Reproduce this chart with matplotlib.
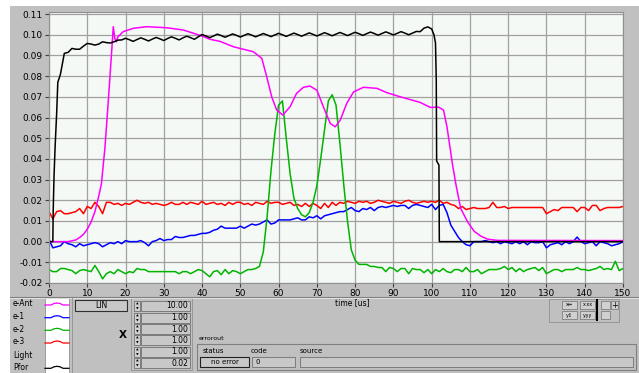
import numpy as np
import matplotlib
matplotlib.use("Agg")
import matplotlib.pyplot as plt
from matplotlib.patches import Rectangle

plt.rcParams['axes.unicode_minus'] = False
plt.rcParams['font.family'] = 'DejaVu Sans'

# time axis for the sampled channels (1 us steps)
t = np.arange(0, 151)

e3 = [0.0145, 0.011, 0.0145, 0.015, 0.0135, 0.0135, 0.014, 0.0145, 0.016, 0.0135,
      0.017, 0.016, 0.019, 0.017, 0.0135, 0.019, 0.019, 0.018, 0.0185, 0.0175,
      0.0185, 0.018, 0.019, 0.020, 0.019, 0.0185, 0.019, 0.018, 0.0185, 0.018,
      0.0175, 0.018, 0.019, 0.018, 0.018, 0.019, 0.018, 0.019, 0.0185, 0.018,
      0.0195, 0.018, 0.0185, 0.019, 0.018, 0.0185, 0.0175, 0.019, 0.018, 0.019,
      0.019, 0.018, 0.0185, 0.0175, 0.019, 0.0185, 0.018, 0.0195, 0.0185, 0.019,
      0.019, 0.018, 0.0185, 0.019, 0.0175, 0.018, 0.017, 0.0185, 0.017, 0.0185,
      0.0175, 0.016, 0.0185, 0.0165, 0.019, 0.0175, 0.019, 0.0185, 0.0195, 0.019,
      0.0185, 0.0195, 0.019, 0.0195, 0.0185, 0.019, 0.020, 0.0195, 0.019, 0.0185,
      0.0195, 0.019, 0.0185, 0.0195, 0.020, 0.019, 0.0185, 0.019, 0.0195, 0.019,
      0.0195, 0.019, 0.020, 0.0185, 0.019, 0.018, 0.0175, 0.016, 0.017, 0.0155,
      0.016, 0.0165, 0.016, 0.016, 0.016, 0.0165, 0.019, 0.0165, 0.0165, 0.017,
      0.016, 0.0165, 0.0165, 0.0165, 0.0165, 0.0165, 0.0165, 0.0165, 0.0165, 0.0165,
      0.0135, 0.0145, 0.0155, 0.015, 0.0165, 0.0165, 0.0165, 0.0165, 0.0145, 0.0165,
      0.0165, 0.015, 0.0175, 0.0175, 0.015, 0.016, 0.0165, 0.0165, 0.0165, 0.0165,
      0.017]

e1 = [0.001, -0.003, -0.0025, -0.002, 0.0, -0.001, -0.0015, -0.0025, -0.001, -0.002,
      -0.0015, -0.001, -0.0005, -0.001, -0.0025, -0.0015, -0.0005, -0.001, 0.0, -0.001,
      0.0005, 0.0, 0.0, 0.0, 0.0005, -0.0005, -0.002, 0.0, 0.0005, 0.0015,
      0.0005, 0.001, 0.001, 0.0025, 0.002, 0.002, 0.0025, 0.003, 0.003, 0.0035,
      0.004, 0.004, 0.0045, 0.0055, 0.006, 0.0075, 0.0065, 0.0065, 0.0065, 0.0065,
      0.0075, 0.0065, 0.0075, 0.0085, 0.008, 0.0085, 0.0095, 0.0105, 0.0085, 0.009,
      0.0105, 0.0105, 0.0105, 0.0105, 0.011, 0.0115, 0.0105, 0.0105, 0.012, 0.0115,
      0.0125, 0.011, 0.0125, 0.013, 0.0135, 0.014, 0.0145, 0.0145, 0.0155, 0.0165,
      0.015, 0.0145, 0.016, 0.0155, 0.0165, 0.015, 0.0165, 0.017, 0.0165, 0.017,
      0.0175, 0.017, 0.0175, 0.0175, 0.016, 0.0175, 0.018, 0.0175, 0.017, 0.0165,
      0.018, 0.0155, 0.0175, 0.018, 0.014, 0.008, 0.005, 0.002, 0.0, -0.0015,
      -0.002, 0.0, 0.0, 0.0, 0.0005, 0.0, -0.0005, 0.0, -0.001, 0.0,
      -0.0005, -0.001, 0.0, -0.001, 0.0, -0.0015, 0.0, -0.0005, -0.0005, 0.0,
      -0.003, -0.0015, -0.001, -0.0005, -0.0015, 0.0, -0.001, 0.0, 0.0022, 0.0,
      -0.001, -0.0005, 0.0, -0.002, 0.0, -0.0005, -0.001, -0.002, -0.0015, -0.001,
      0.0]

e2 = [-0.0135, -0.0145, -0.0145, -0.013, -0.013, -0.0135, -0.014, -0.0155, -0.014, -0.0135,
      -0.014, -0.0145, -0.0115, -0.0145, -0.018, -0.0155, -0.0145, -0.0155, -0.0135, -0.0145,
      -0.0155, -0.0145, -0.015, -0.013, -0.0135, -0.0135, -0.0145, -0.0145, -0.0145, -0.0145,
      -0.0145, -0.0145, -0.0145, -0.0145, -0.0155, -0.0145, -0.0145, -0.0155, -0.0145, -0.0135,
      -0.014, -0.0155, -0.017, -0.0145, -0.014, -0.016, -0.0135, -0.0155, -0.014, -0.0145,
      -0.0155, -0.0145, -0.0135, -0.0135, -0.013, -0.012, -0.005, 0.012, 0.034, 0.052,
      0.066, 0.068, 0.050, 0.033, 0.021, 0.016, 0.013, 0.012, 0.014, 0.019,
      0.027, 0.040, 0.054, 0.068, 0.071, 0.066, 0.048, 0.028, 0.010, -0.004,
      -0.009, -0.011, -0.011, -0.011, -0.012, -0.012, -0.0125, -0.0125, -0.0145, -0.0125,
      -0.013, -0.0145, -0.013, -0.013, -0.0155, -0.013, -0.0135, -0.0135, -0.015, -0.0135,
      -0.0155, -0.0135, -0.0145, -0.013, -0.0145, -0.015, -0.0135, -0.0135, -0.0145, -0.0125,
      -0.0145, -0.0145, -0.0135, -0.0155, -0.0145, -0.0135, -0.0135, -0.0135, -0.013, -0.012,
      -0.0135, -0.0125, -0.0145, -0.013, -0.0145, -0.0135, -0.013, -0.0125, -0.014, -0.0125,
      -0.0155, -0.0145, -0.0135, -0.0135, -0.0145, -0.0135, -0.0135, -0.0135, -0.0125, -0.0135,
      -0.0135, -0.014, -0.0135, -0.013, -0.012, -0.0135, -0.013, -0.0135, -0.0095, -0.014,
      -0.013]

# Pfor (forward power), own time base
pfor_t = [0, 1, 1.1, 1.3, 1.6, 2.0, 2.3, 3, 4, 5, 6, 7, 8, 9, 10, 11, 12, 13, 14, 15,
          16, 17, 18] + list(range(19, 101)) + [100.6, 101.0, 101.2, 101.3, 101.9, 102, 150]
pfor = [0.0, 0.0, 0.015, 0.031, 0.046, 0.062, 0.077, 0.081, 0.091, 0.0915,
        0.0934, 0.093, 0.093, 0.0945, 0.0958, 0.0955, 0.095, 0.0955, 0.0966, 0.0962,
        0.096, 0.0966, 0.0974,
        0.0975, 0.0983, 0.0976, 0.0968, 0.0977, 0.0985, 0.0978, 0.0970, 0.0979, 0.0987,
        0.0980, 0.0972, 0.0982, 0.0990, 0.0983, 0.0975, 0.0985, 0.0993, 0.0986, 0.0978,
        0.0990, 0.1001, 0.0994, 0.0986, 0.0994, 0.1003, 0.0996, 0.0988, 0.0996, 0.1004,
        0.0997, 0.0989, 0.0997, 0.1005, 0.0998, 0.0990, 0.0998, 0.1006, 0.0999, 0.0991,
        0.0999, 0.1007, 0.1000, 0.0992, 0.1000, 0.1008, 0.1001, 0.0993, 0.1001, 0.1009,
        0.1002, 0.0994, 0.1002, 0.1010, 0.1003, 0.0995, 0.1003, 0.1011, 0.1004, 0.0996,
        0.1004, 0.1012, 0.1005, 0.0997, 0.1005, 0.1013, 0.1006, 0.0998, 0.1006, 0.1014,
        0.1007, 0.0999, 0.1007, 0.1015, 0.1008, 0.1000, 0.1008, 0.1016, 0.1015, 0.1032,
        0.1038, 0.1028,
        0.100, 0.096, 0.078, 0.039, 0.037, 0.0, 0.0]

# e-Ant, own time base
eant_t = [0, 5, 7, 8, 9, 10, 11, 12, 13, 13.7, 14.6, 15.5, 16.4, 16.8, 17.2, 17.6, 18,
          19.4, 22, 25.5, 30.7, 35.1, 39.5, 42.1, 44.7, 48.2, 53.4, 55.6, 56.9, 58.2,
          59.5, 61.1, 63, 64.7, 66.5, 68.2, 70, 71.7, 73.5, 74.8, 76.1, 77.8, 79.6,
          82.2, 85.7, 88.3, 91.8, 97, 99.6, 101.8, 103.1, 104, 104.9, 105.4, 106.3,
          107.6, 109.4, 111.1, 112.9, 114.6, 117.2, 150]
eant = [0.0, 0.0, 0.0008, 0.002, 0.0035, 0.006, 0.0095, 0.0145, 0.022, 0.028, 0.045,
        0.068, 0.0926, 0.1039, 0.0982, 0.0966, 0.099, 0.1015, 0.1031, 0.1039, 0.1034,
        0.1023, 0.0997, 0.0978, 0.0968, 0.0942, 0.0918, 0.0886, 0.0797, 0.070,
        0.0636, 0.0612, 0.0652, 0.0717, 0.0746, 0.0752, 0.0732, 0.0652, 0.0571, 0.0555,
        0.0587, 0.0668, 0.0724, 0.0746, 0.0741, 0.072, 0.070, 0.0673, 0.0649, 0.065,
        0.0636, 0.0555, 0.0442, 0.0378, 0.028, 0.016, 0.0095, 0.005, 0.0026, 0.0012,
        0.0006, 0.0005]

legend_names = ["e-Ant", "e-1", "e-2", "e-3", "Light", "Pfor"]
legend_colors = ["#ff00ff", "#0000ff", "#00b400", "#ff0000", None, "#000000"]
scale_values = ["10.00", "1.00", "1.00", "1.00", "1.00", "0.02"]

W, H = 639, 373
panel = "#c0c0c0"
fig = plt.figure(figsize=(W / 100, H / 100), dpi=100, facecolor="white")

# overlay in pixel coordinates for the front panel
ov = fig.add_axes([0, 0, 1, 1], zorder=0)
ov.set_xlim(0, W)
ov.set_ylim(H, 0)
ov.axis("off")
ov.add_patch(Rectangle((10, 6), W - 10, H - 6, facecolor=panel, edgecolor="none"))
ov.plot([10, W], [296.5, 296.5], color="#808080", lw=0.8)
ov.plot([10, W], [297.5, 297.5], color="#e8e8e8", lw=0.6)

# plot area
ax = fig.add_axes([49 / W, 1 - 283 / H, 574 / W, 271 / H], zorder=1)
ax.set_facecolor("#f5f9f5")
ax.plot(t, e3, color="#ff0000", lw=1.1)
ax.plot(t, e1, color="#0000ff", lw=1.1)
ax.plot(t, e2, color="#00b400", lw=1.1)
ax.plot(eant_t, eant, color="#ff00ff", lw=1.1)
ax.plot(pfor_t, pfor, color="#000000", lw=1.1)
ax.set_xlim(0, 150)
ax.set_ylim(-0.02, 0.111)
ax.set_xticks(np.arange(0, 151, 10))
ax.set_yticks(np.arange(-0.02, 0.1101, 0.01))
ax.yaxis.set_major_formatter(matplotlib.ticker.FormatStrFormatter("%.2f"))
ax.grid(True, color="#a0a0a0", lw=0.9)
ax.set_axisbelow(True)
ax.tick_params(labelsize=6.5, length=3, width=0.8, color="#404040", pad=1.5)
for s in ax.spines.values():
    s.set_color("#909090")
    s.set_linewidth(0.8)

ov.text(335, 303, "time [us]", fontsize=5.5, va="center", ha="left")

# legend column
ov.add_patch(Rectangle((45, 298), 24, 75, facecolor="white", edgecolor="#909090", lw=0.6))
ov.plot([72, 72], [298, H], color="#909090", lw=0.6)
rows = [304, 316.7, 329.3, 342, 355, 367.3]
bump_dx = [0, 6, 9, 12, 15, 18, 24]
bump_dy = [0, 0, -1.5, -2, -1.5, 0, 0]
for y, name, c in zip(rows, legend_names, legend_colors):
    ov.text(13, y, name, fontsize=5.5, va="center", ha="left")
    if c is not None:
        ov.plot([45 + d for d in bump_dx], [y + 1 + d for d in bump_dy], color=c, lw=0.9)

# LIN button
ov.add_patch(Rectangle((75, 300), 52, 11, facecolor="#c8c8c8", edgecolor="#303030", lw=0.8))
ov.text(101, 305.5, "LIN", fontsize=5.5, va="center", ha="center")
ov.text(123, 335, "X", fontsize=7.5, va="center", ha="center", fontweight="bold")

# scale controls
ov.add_patch(Rectangle((131, 298), 61, 72, facecolor="none", edgecolor="#909090", lw=0.6))
for y, v in zip([305.7, 317.7, 329, 340.3, 351.7, 363.3], scale_values):
    ov.add_patch(Rectangle((134, y - 5), 6, 10, facecolor="#d0d0d0", edgecolor="#606060", lw=0.5))
    ov.text(137, y - 2.5, "\u25b2", fontsize=2.5, ha="center", va="center")
    ov.text(137, y + 2.5, "\u25bc", fontsize=2.5, ha="center", va="center")
    ov.add_patch(Rectangle((141, y - 5), 49, 10, facecolor="#c8c8c8", edgecolor="#707070", lw=0.6))
    ov.text(188, y, v, fontsize=5.5, va="center", ha="right")

# error cluster
ov.text(199, 339, "errorout", fontsize=4.5, va="center", ha="left")
ov.add_patch(Rectangle((197, 344), 439, 26, facecolor=panel, edgecolor="#808080", lw=0.8))
ov.text(203, 351, "status", fontsize=5, va="center", ha="left")
ov.text(251, 351, "code", fontsize=5, va="center", ha="left")
ov.text(300, 351, "source", fontsize=5, va="center", ha="left")
ov.add_patch(Rectangle((200, 357), 49, 10, facecolor="#c8c8c8", edgecolor="#202020", lw=0.8))
ov.text(224.5, 362, "no error", fontsize=5, va="center", ha="center")
ov.add_patch(Rectangle((252, 357), 43, 10, facecolor="#c8c8c8", edgecolor="#707070", lw=0.6))
ov.text(255, 362, "0", fontsize=5, va="center", ha="left")
ov.add_patch(Rectangle((300, 357), 333, 10, facecolor="#c8c8c8", edgecolor="#707070", lw=0.6))

# graph palette
ov.add_patch(Rectangle((549, 299), 70, 23, facecolor=panel, edgecolor="#909090", lw=0.6))
for x0, y0, lab in [(562, 301, "x\u2194"), (580, 301, "x.xx"), (562, 311, "y\u2195"), (580, 311, "y.yy")]:
    ov.add_patch(Rectangle((x0, y0), 15, 8, facecolor="#d0d0d0", edgecolor="#707070", lw=0.5))
    ov.text(x0 + 7.5, y0 + 4, lab, fontsize=3.5, ha="center", va="center")
ov.plot([597, 597], [300, 320], color="black", lw=1.5)
ov.add_patch(Rectangle((601, 301), 9, 8, facecolor="#d0d0d0", edgecolor="#707070", lw=0.5))
ov.add_patch(Rectangle((611, 301), 7, 8, facecolor="#d0d0d0", edgecolor="#707070", lw=0.5))
ov.text(614.5, 305, "+", fontsize=6, ha="center", va="center")
ov.add_patch(Rectangle((601, 311), 9, 8, facecolor="#d0d0d0", edgecolor="#707070", lw=0.5))

fig.savefig("out.png", dpi=100, facecolor="white")
